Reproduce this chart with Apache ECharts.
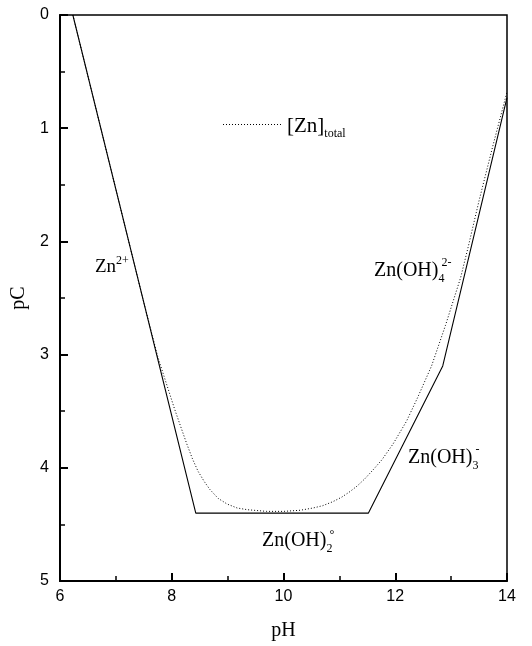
<!DOCTYPE html>
<html>
<head>
<meta charset="utf-8">
<script src="https://cdn.jsdelivr.net/npm/echarts@6/dist/echarts.min.js"></script>
<style>
html,body{margin:0;padding:0;background:#fff;}
#chart{width:532px;height:646px;}
</style>
</head>
<body>
<div id="chart"></div>
<script>
// pH / pC breakpoints of the dominant-species (solid) line
const speciesLine = [[6.23, 0], [8.43, 4.40], [11.52, 4.40], [12.85, 3.10], [14.0, 0.73]];
// total dissolved zinc (dotted)
const totalLine = [
  [6.23, 0], [7.0, 1.54], [7.5, 2.54], [7.75, 3.02], [7.9, 3.25], [8.05, 3.48],
  [8.17, 3.65], [8.27, 3.79], [8.37, 3.92], [8.47, 4.03], [8.58, 4.12], [8.68, 4.19],
  [8.83, 4.27], [8.99, 4.32], [9.17, 4.355], [9.35, 4.37], [9.7, 4.385],
  [10.0, 4.385], [10.3, 4.375], [10.53, 4.355], [10.7, 4.335], [10.88, 4.30], [11.04, 4.26],
  [11.19, 4.21], [11.32, 4.16], [11.45, 4.10], [11.6, 4.02], [11.76, 3.93], [11.96, 3.79],
  [12.2, 3.59], [12.40, 3.38], [12.65, 3.10], [12.9, 2.74],
  [13.17, 2.32], [13.3, 2.06], [13.5, 1.64], [13.75, 1.15], [14.0, 0.68]
];
const xTicks = [6, 8, 10, 12, 14];
const yTicks = [0, 1, 2, 3, 4, 5];

const serif = '"Liberation Serif","Times New Roman",serif';
const sans = '"Liberation Sans",Arial,sans-serif';

const chart = echarts.init(document.getElementById('chart'), null, {renderer: 'canvas'});

const ctx = document.createElement('canvas').getContext('2d');
function tw(text, size) { ctx.font = size + 'px ' + serif; return ctx.measureText(text).width; }

// label builder: main text, optional sub and sup
function label(x, y, main, sub, sup, size, subSize, opts) {
  opts = opts || {};
  const els = [];
  const w = tw(main, size);
  els.push({type: 'text', left: x, top: y - size / 2, style: {text: main, font: size + 'px ' + serif, fill: '#000'}});
  if (sub) els.push({type: 'text', left: x + w + (opts.subDx || 0), top: y + (opts.subDy || 3), style: {text: sub, font: subSize + 'px ' + serif, fill: '#000'}});
  if (sup) els.push({type: 'text', left: x + w + (opts.supDx || 0), top: y - size / 2 - (opts.supDy || 3), style: {text: sup, font: subSize + 'px ' + serif, fill: '#000'}});
  return els;
}

let graphics = [];
graphics = graphics.concat(label(95, 267, 'Zn', null, '2+', 19, 12, {supDy: 3}));
graphics = graphics.concat(label(374, 271, 'Zn(OH)', '4', '2-', 20, 12, {subDy: 2, supDx: 3, supDy: 4}));
graphics = graphics.concat(label(408, 458, 'Zn(OH)', '3', '-', 20, 12, {subDy: 2, supDx: 3, supDy: 4}));
graphics = graphics.concat(label(262, 541, 'Zn(OH)', '2', '\u00b0', 20, 12, {subDy: 2, supDx: 3, supDy: 2}));
graphics = graphics.concat(label(287, 126, '[Zn]', 'total', null, 21, 12, {subDy: 2}));

const option = {
  animation: false,
  backgroundColor: '#fff',
  grid: {left: 60, top: 15, right: 25, bottom: 59, show: true, borderColor: '#000', borderWidth: 1.5, containLabel: false},
  xAxis: {
    type: 'value', min: 6, max: 14, interval: 2,
    name: 'pH', nameLocation: 'middle', nameGap: 40,
    nameTextStyle: {fontFamily: serif, fontSize: 20, color: '#000'},
    axisLine: {show: true, onZero: false, lineStyle: {color: '#000', width: 2}},
    axisTick: {show: true, inside: true, length: 8, lineStyle: {color: '#000', width: 2}},
    minorTick: {show: true, splitNumber: 2, length: 5, lineStyle: {color: '#000', width: 1.5}},
    axisLabel: {fontFamily: sans, fontSize: 16, color: '#000', margin: 8,
      formatter: v => xTicks.indexOf(v) >= 0 ? String(v) : ''},
    splitLine: {show: false}
  },
  yAxis: {
    type: 'value', min: 0, max: 5, interval: 1, inverse: true,
    name: 'pC', nameLocation: 'middle', nameGap: 30, nameRotate: 90,
    nameTextStyle: {fontFamily: serif, fontSize: 20, color: '#000'},
    axisLine: {show: true, onZero: false, lineStyle: {color: '#000', width: 2}},
    axisTick: {show: true, inside: true, length: 8, lineStyle: {color: '#000', width: 2}},
    minorTick: {show: true, splitNumber: 2, length: 5, lineStyle: {color: '#000', width: 1.5}},
    axisLabel: {fontFamily: sans, fontSize: 16, color: '#000', margin: 11,
      formatter: v => yTicks.indexOf(v) >= 0 ? String(v) : ''},
    splitLine: {show: false}
  },
  series: [
    {
      name: 'species', type: 'line', data: speciesLine, symbol: 'none',
      lineStyle: {color: '#000', width: 1.1}, z: 3, clip: true
    },
    {
      name: 'total', type: 'line', data: totalLine, symbol: 'none',
      lineStyle: {color: '#000', width: 1, type: [1, 2]}, z: 2, clip: true
    },
    {
      // legend sample line for [Zn]total
      name: 'legendSample', type: 'line', data: [], symbol: 'none',
      markLine: {
        silent: true, symbol: 'none', label: {show: false},
        lineStyle: {color: '#000', width: 1, type: [1, 2]},
        data: [[{x: 223, y: 124}, {x: 282, y: 124}]]
      }
    }
  ],
  graphic: graphics
};
chart.setOption(option);
</script>
</body>
</html>
